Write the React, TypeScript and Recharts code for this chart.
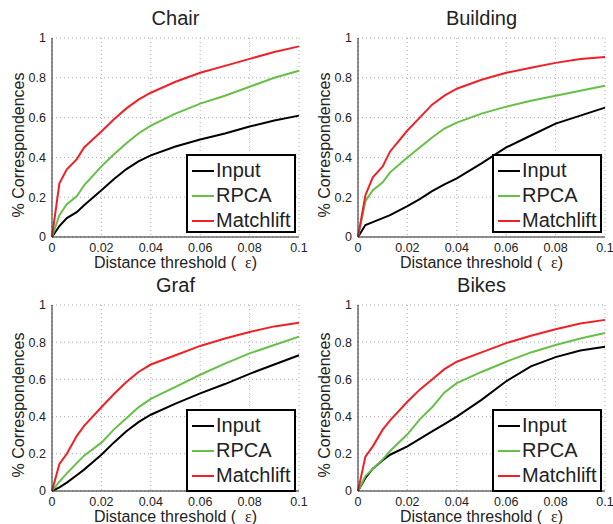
import React from "react";
import {
  LineChart,
  Line,
  XAxis,
  YAxis,
  CartesianGrid,
  Legend,
} from "recharts";

const xs = [0, 0.003, 0.006, 0.01, 0.013, 0.02, 0.025, 0.03, 0.035, 0.04, 0.05, 0.06, 0.07, 0.08, 0.09, 0.1];

const chairInput = [0, 0.055, 0.095, 0.125, 0.16, 0.235, 0.29, 0.34, 0.38, 0.41, 0.455, 0.49, 0.52, 0.555, 0.585, 0.61];
const chairRpca = [0, 0.11, 0.165, 0.205, 0.26, 0.355, 0.415, 0.47, 0.52, 0.56, 0.62, 0.67, 0.71, 0.755, 0.8, 0.835];
const chairMatchlift = [0, 0.27, 0.34, 0.39, 0.45, 0.53, 0.59, 0.645, 0.69, 0.725, 0.78, 0.825, 0.86, 0.895, 0.93, 0.958];

const buildingInput = [0, 0.06, 0.075, 0.095, 0.11, 0.155, 0.19, 0.23, 0.265, 0.295, 0.37, 0.45, 0.51, 0.57, 0.61, 0.65];
const buildingRpca = [0, 0.18, 0.235, 0.275, 0.325, 0.4, 0.45, 0.5, 0.545, 0.575, 0.62, 0.655, 0.685, 0.71, 0.735, 0.76];
const buildingMatchlift = [0, 0.21, 0.3, 0.355, 0.43, 0.535, 0.6, 0.665, 0.71, 0.745, 0.79, 0.825, 0.85, 0.875, 0.895, 0.905];

const grafInput = [0, 0.02, 0.045, 0.085, 0.115, 0.195, 0.26, 0.32, 0.37, 0.41, 0.47, 0.525, 0.575, 0.63, 0.68, 0.73];
const grafRpca = [0, 0.05, 0.095, 0.15, 0.19, 0.26, 0.33, 0.39, 0.45, 0.495, 0.56, 0.625, 0.685, 0.74, 0.785, 0.83];
const grafMatchlift = [0, 0.145, 0.2, 0.295, 0.35, 0.45, 0.52, 0.585, 0.64, 0.68, 0.73, 0.78, 0.82, 0.855, 0.885, 0.905];

const bikesInput = [0, 0.07, 0.12, 0.165, 0.195, 0.24, 0.28, 0.32, 0.36, 0.4, 0.49, 0.59, 0.67, 0.72, 0.755, 0.775];
const bikesRpca = [0, 0.08, 0.12, 0.17, 0.215, 0.305, 0.385, 0.45, 0.53, 0.58, 0.64, 0.695, 0.745, 0.785, 0.82, 0.85];
const bikesMatchlift = [0, 0.185, 0.24, 0.33, 0.38, 0.48, 0.545, 0.6, 0.655, 0.695, 0.745, 0.795, 0.835, 0.87, 0.9, 0.92];

const seriesOrder = ["Input", "RPCA", "Matchlift"];
const xTicks = [0, 0.02, 0.04, 0.06, 0.08, 0.1];
const yTicks = [0, 0.2, 0.4, 0.6, 0.8, 1];

const FONT = '"Liberation Sans", Arial, sans-serif';
const INK = "#222";

const buildRows = (input: number[], rpca: number[], matchlift: number[]) =>
  xs.map((x, i) => ({ x, input: input[i], rpca: rpca[i], matchlift: matchlift[i] }));

const LegendBox = (props: any) => {
  const { payload, boxHeight } = props;
  const items = [...(payload || [])].sort(
    (a: any, b: any) => seriesOrder.indexOf(a.value) - seriesOrder.indexOf(b.value)
  );
  return (
    <div
      style={{
        width: 110,
        height: boxHeight,
        boxSizing: "border-box",
        border: "2px solid #000",
        background: "#fff",
        paddingTop: 2,
        fontFamily: FONT,
      }}
    >
      {items.map((p: any) => (
        <div key={p.value} style={{ display: "flex", alignItems: "center", height: 25 }}>
          <span style={{ display: "inline-block", width: 22, height: 2, marginLeft: 4, background: p.color }} />
          <span style={{ fontSize: 20, color: INK, marginLeft: 2, lineHeight: "25px" }}>{p.value}</span>
        </div>
      ))}
    </div>
  );
};

type PanelProps = {
  title: string;
  rows: any[];
  left: number;
  top: number;
  plotTop: number;
  plotHeight: number;
  legendTop: number;
  legendHeight: number;
};

const Panel = ({ title, rows, left, top, plotTop, plotHeight, legendTop, legendHeight }: PanelProps) => {
  // a bit wider than the 306px cell so the "0.1" tick is not clipped
  const width = 314;
  const height = 262;
  const bottom = height - plotTop - plotHeight - 25;
  const plotMid = plotTop + plotHeight / 2;
  return (
    <div style={{ position: "absolute", left, top, width, height, fontFamily: FONT, color: INK }}>
      <LineChart width={width} height={height} data={rows} margin={{ top: plotTop, right: 15, left: 22, bottom }}>
        <CartesianGrid stroke="#aaa" strokeDasharray="1 3" />
        <XAxis
          dataKey="x"
          type="number"
          domain={[0, 0.1]}
          ticks={xTicks}
          height={25}
          tickLine={false}
          tickSize={6}
          tickMargin={0}
          tickFormatter={(v: number) => `${v}`}
          stroke={INK}
          tick={{ fontSize: 12.5, fill: INK, fontFamily: FONT }}
          interval={0}
        />
        <YAxis
          type="number"
          domain={[0, 1]}
          ticks={yTicks}
          width={30}
          tickLine={false}
          tickSize={6}
          tickMargin={0}
          stroke={INK}
          tick={{ fontSize: 12.5, fill: INK, fontFamily: FONT }}
          interval={0}
        />
        <Line dataKey="input" name="Input" stroke="#000" strokeWidth={2} dot={false} isAnimationActive={false} />
        <Line dataKey="rpca" name="RPCA" stroke="#66bf46" strokeWidth={2} dot={false} isAnimationActive={false} />
        <Line dataKey="matchlift" name="Matchlift" stroke="#ee2226" strokeWidth={2} dot={false} isAnimationActive={false} />
        <Legend
          layout="vertical"
          align="center"
          verticalAlign="middle"
          wrapperStyle={{ left: 186, top: legendTop, width: 110, height: legendHeight }}
          content={(p: any) => <LegendBox {...p} boxHeight={legendHeight} />}
        />
      </LineChart>
      <div
        style={{
          position: "absolute",
          left: 52,
          width: 247,
          top: plotTop - 30,
          textAlign: "center",
          fontSize: 20,
          lineHeight: "20px",
        }}
      >
        {title}
      </div>
      <div
        style={{
          position: "absolute",
          left: 52,
          width: 247,
          top: plotTop + plotHeight + 17.5,
          textAlign: "center",
          fontSize: 16,
          lineHeight: "15px",
          whiteSpace: "pre",
        }}
      >
        {"Distance threshold (  "}
        <span style={{ fontFamily: '"Liberation Serif", serif' }}>ε</span>
        {")"}
      </div>
      <div
        style={{
          position: "absolute",
          left: 19,
          top: plotMid + 7,
          transform: "translate(-50%, -50%) rotate(-90deg)",
          fontSize: 16,
          lineHeight: "18px",
          whiteSpace: "nowrap",
        }}
      >
        % Correspondences
      </div>
    </div>
  );
};

const App = () => (
  <div style={{ position: "absolute", left: 0, top: 0, width: 613, height: 524, background: "#fff", overflow: "hidden" }}>
    <Panel title="Chair" rows={buildRows(chairInput, chairRpca, chairMatchlift)} left={0} top={0} plotTop={38} plotHeight={199} legendTop={154} legendHeight={79} />
    <Panel title="Building" rows={buildRows(buildingInput, buildingRpca, buildingMatchlift)} left={306} top={0} plotTop={38} plotHeight={199} legendTop={154} legendHeight={79} />
    <Panel title="Graf" rows={buildRows(grafInput, grafRpca, grafMatchlift)} left={0} top={262} plotTop={43} plotHeight={186} legendTop={147} legendHeight={83} />
    <Panel title="Bikes" rows={buildRows(bikesInput, bikesRpca, bikesMatchlift)} left={306} top={262} plotTop={43} plotHeight={186} legendTop={147} legendHeight={83} />
  </div>
);

export default App;
